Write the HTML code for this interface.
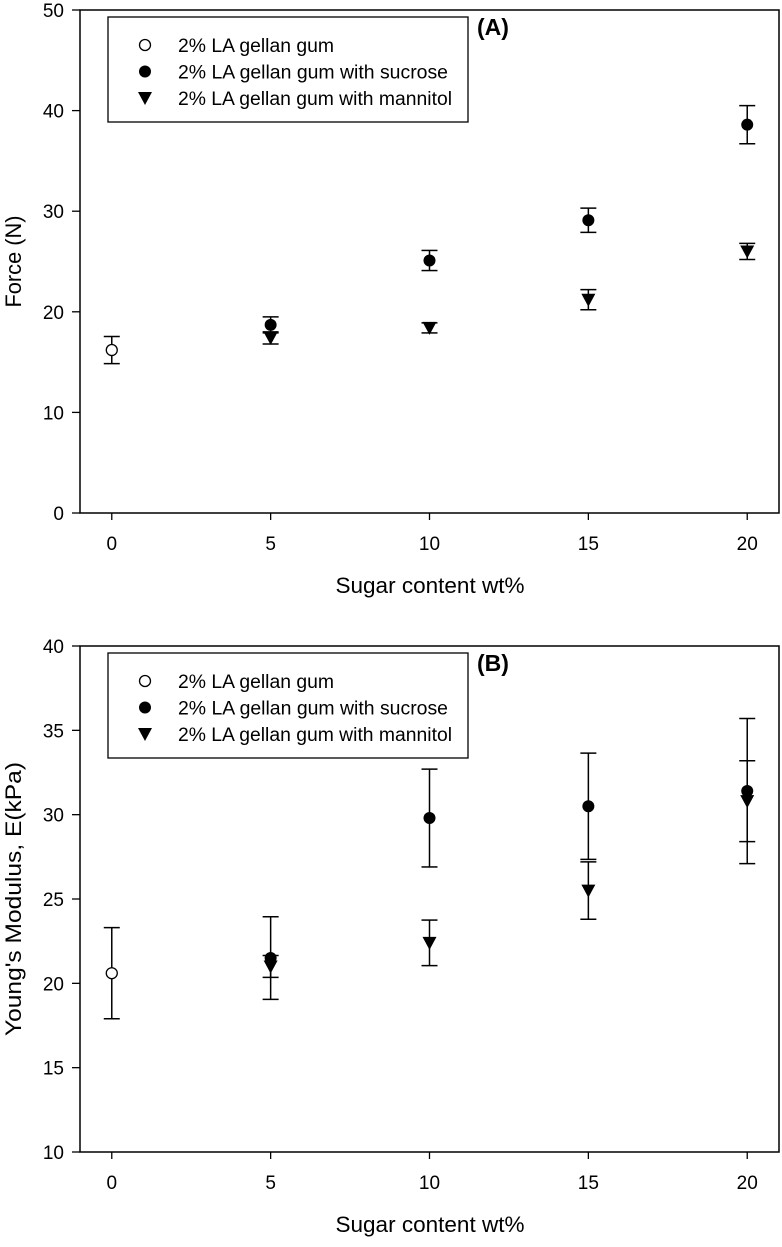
<!DOCTYPE html>
<html><head><meta charset="utf-8"><style>
body{margin:0;background:#fff}
svg text{font-family:"Liberation Sans",Arial,sans-serif;fill:#000}
</style></head><body>
<svg id="chart" width="782" height="1242" xmlns="http://www.w3.org/2000/svg"></svg>
<script>
const categories=[0,5,10,15,20];
// Panel A: force
const aPlainX=[0];const aPlainV=[16.2];const aPlainE=[1.35];
const aSucX=[5,10,15,20];const aSucV=[18.7,25.1,29.1,38.6];const aSucE=[0.8,1.0,1.2,1.9];
const aManX=[5,10,15,20];const aManV=[17.4,18.4,21.2,26.0];const aManE=[0.6,0.5,1.0,0.8];
const aYTicks=[0,10,20,30,40,50];
// Panel B: Young's modulus
const bPlainX=[0];const bPlainV=[20.6];const bPlainE=[2.7];
const bSucX=[5,10,15,20];const bSucV=[21.5,29.8,30.5,31.4];const bSucE=[2.45,2.9,3.15,4.3];
const bManX=[5,10,15,20];const bManV=[21.0,22.4,25.5,30.8];const bManE=[0.65,1.35,1.7,2.4];
const bYTicks=[10,15,20,25,30,35,40];
const legendLabels=["2% LA gellan gum","2% LA gellan gum with sucrose","2% LA gellan gum with mannitol"];
const legendWidths=[156,270,274];

const svg=document.getElementById('chart');
const NS="http://www.w3.org/2000/svg";
function mk(tag,attrs,parent,text){const e=document.createElementNS(NS,tag);for(const k in attrs)e.setAttribute(k,attrs[k]);if(text!==undefined)e.textContent=text;(parent||svg).appendChild(e);return e;}

function panel(cfg){
  const g=mk('g',{});
  
  
  const L=80,R=779,T=cfg.top,B=cfg.bottom;
  const xs=v=>L+(v+1)*(R-L)/22;
  const ys=v=>B-(v-cfg.ymin)*(B-T)/(cfg.ymax-cfg.ymin);
  const frame=mk('rect',{x:L,y:T,width:R-L,height:B-T,fill:'none',stroke:'#000','stroke-width':1.5},g);
  
  
  cfg.yticks.forEach(t=>{
    mk('line',{x1:L-8,x2:L,y1:ys(t),y2:ys(t),stroke:'#000','stroke-width':1.3},g);
    const tl=mk('text',{x:L-16,y:ys(t)+7,'text-anchor':'end','font-size':19},g,String(t));
    
    
  });
  categories.forEach(c=>{
    mk('line',{x1:xs(c),x2:xs(c),y1:B,y2:B+7,stroke:'#000','stroke-width':1.3},g);
    const tl=mk('text',{x:xs(c),y:B+37,'text-anchor':'middle','font-size':19},g,String(c));
    
    
  });
  const xt=mk('text',{x:430,y:B+80,'text-anchor':'middle','font-size':22,textLength:189,lengthAdjust:'spacingAndGlyphs'},g,'Sugar content wt%');
  
  
  const yc=(T+B)/2;
  const yt=mk('text',{x:0,y:0,transform:`translate(21,${yc}) rotate(-90)`,'text-anchor':'middle','font-size':22,textLength:cfg.ytLen,lengthAdjust:'spacingAndGlyphs'},g,cfg.ytitle);
  
  
  function err(x,v,e){
    const X=xs(x);
    mk('line',{x1:X,x2:X,y1:ys(v+e),y2:ys(v-e),stroke:'#000','stroke-width':1.5},g);
    mk('line',{x1:X-8,x2:X+8,y1:ys(v+e),y2:ys(v+e),stroke:'#000','stroke-width':1.5},g);
    mk('line',{x1:X-8,x2:X+8,y1:ys(v-e),y2:ys(v-e),stroke:'#000','stroke-width':1.5},g);
  }
  function marker(type,X,Y,parent){
    if(type==='open')return mk('circle',{cx:X,cy:Y,r:5.5,fill:'#fff',stroke:'#000','stroke-width':1.3},parent);
    if(type==='fill')return mk('circle',{cx:X,cy:Y,r:6,fill:'#000'},parent);
    return mk('polygon',{points:`${X-7},${Y-6} ${X+7},${Y-6} ${X},${Y+7}`,fill:'#000'},parent);
  }
  const series=[['open',cfg.p[0],cfg.p[1],cfg.p[2],'plain'],['fill',cfg.s[0],cfg.s[1],cfg.s[2],'sucrose'],['tri',cfg.m[0],cfg.m[1],cfg.m[2],'mannitol']];
  series.forEach(([type,X,V,E,nm])=>{
    X.forEach((x,i)=>err(x,V[i],E[i]));
  });
  series.forEach(([type,X,V,E,nm])=>{
    X.forEach((x,i)=>{
      const m=marker(type,xs(x),ys(V[i]),g);
      
      
    });
  });
  const lg=mk('g',{},g);
  
  
  const lt=cfg.legTop;
  mk('rect',{x:108,y:lt,width:360,height:105,fill:'#fff',stroke:'#000','stroke-width':1.3},lg);
  ['open','fill','tri'].forEach((t,i)=>{
    const yy=lt+28+i*26.5;
    marker(t,145,yy,lg);
    const tx=mk('text',{x:178,y:yy+7,'font-size':19,textLength:legendWidths[i],lengthAdjust:'spacingAndGlyphs'},lg,legendLabels[i]);
    
    
  });
  const pl=mk('text',{x:477,y:T+25,'font-size':23,'font-weight':'bold'},g,cfg.label);
  
  
}
panel({name:'panel-a-force',top:10,bottom:513,ymin:0,ymax:50,yticks:aYTicks,ytitle:'Force (N)',ytLen:92,label:'(A)',
  p:[aPlainX,aPlainV,aPlainE],s:[aSucX,aSucV,aSucE],m:[aManX,aManV,aManE],legTop:17});
panel({name:'panel-b-modulus',top:646,bottom:1152,ymin:10,ymax:40,yticks:bYTicks,ytitle:"Young's Modulus, E(kPa)",ytLen:274,label:'(B)',
  p:[bPlainX,bPlainV,bPlainE],s:[bSucX,bSucV,bSucE],m:[bManX,bManV,bManE],legTop:653});
</script>
</body></html>
